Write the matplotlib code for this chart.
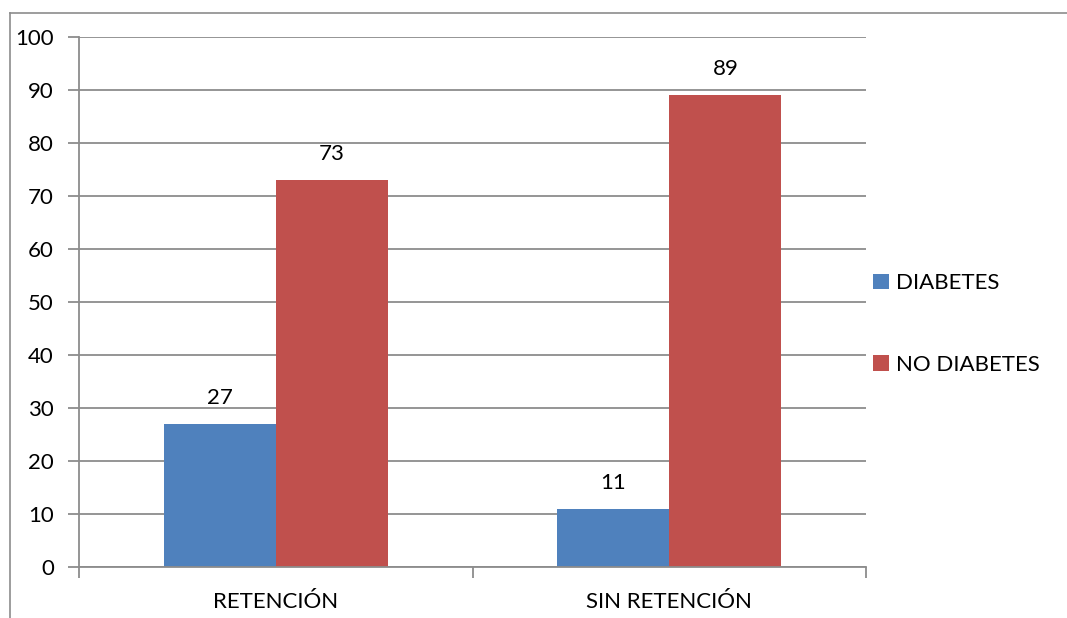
import matplotlib
matplotlib.use("Agg")
import matplotlib.pyplot as plt
import numpy as np
from matplotlib.lines import Line2D

categories = ["RETENCIÓN", "SIN RETENCIÓN"]
series_names = ["DIABETES", "NO DIABETES"]
diabetes = [27, 11]
no_diabetes = [73, 89]
yticks = [0, 10, 20, 30, 40, 50, 60, 70, 80, 90, 100]

colors = ["#4F81BD", "#C0504D"]
grid_c = "#8C8C8C"
plt.rcParams['font.family'] = ['Lato', 'DejaVu Sans']
FS = 16

W, H = 1067, 618
fig = plt.figure(figsize=(W/100, H/100), dpi=100)
ax = fig.add_axes([79/W, 1-567/H, (866-79)/W, (567-37)/H])

x = np.arange(len(categories))
bw = 112/393
b1 = ax.bar(x - bw/2, diabetes, bw, color=colors[0], label=series_names[0])
b2 = ax.bar(x + bw/2, no_diabetes, bw, color=colors[1], label=series_names[1])
for bars, vals in ((b1, diabetes), (b2, no_diabetes)):
    for r, v in zip(bars, vals):
        ax.text(r.get_x() + r.get_width()/2, v + 3, str(v), ha='center', va='bottom', fontsize=FS)

ax.set_xlim(-0.5, 1.5)
ax.set_ylim(0, 100)
ax.set_yticks(yticks)
ax.yaxis.grid(True, color=grid_c, linewidth=1.3)
ax.set_axisbelow(True)
for s in ['top', 'right']:
    ax.spines[s].set_visible(False)
for s in ['left', 'bottom']:
    ax.spines[s].set_color(grid_c)
    ax.spines[s].set_linewidth(1.3)
ax.tick_params(axis='y', length=8, color=grid_c, width=1.3, labelsize=FS, pad=10)
ax.set_xticks([-0.5, 0.5, 1.5], minor=False)
ax.set_xticklabels(["", "", ""])
ax.tick_params(axis='x', length=8, color=grid_c, width=1.3)
for xi, c in zip(x, categories):
    ax.text(xi, -4.8, c, ha='center', va='top', fontsize=FS, transform=ax.transData)

leg = fig.legend(handles=[b1, b2], labels=series_names, loc='center left',
                 bbox_to_anchor=(853/W, 1-324/H), frameon=False, fontsize=FS,
                 handlelength=0.7, handleheight=0.7, handletextpad=0.35, labelspacing=2.75)

# outer chart border (cropped)
fig.add_artist(Line2D([9.5/W, 9.5/W], [0, 1-12.5/H], color="#8C8C8C", linewidth=1.2))
fig.add_artist(Line2D([9.5/W, 1], [1-12.5/H, 1-12.5/H], color="#8C8C8C", linewidth=1.2))

fig.savefig("out.png", dpi=100)
